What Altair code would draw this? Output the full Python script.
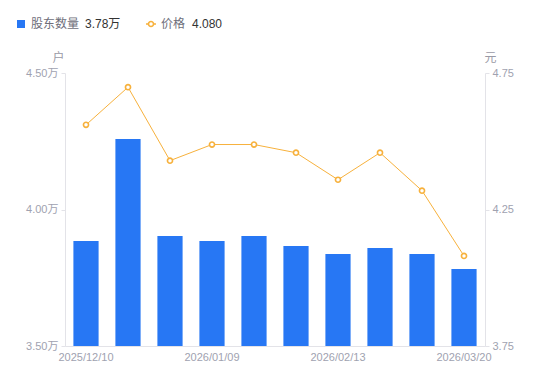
import altair as alt
import pandas as pd

dates = ["2025/12/10", "2025/12/19", "2025/12/31", "2026/01/09", "2026/01/20",
         "2026/01/30", "2026/02/13", "2026/02/27", "2026/03/10", "2026/03/20"]
holders_wan = [3.885, 4.258, 3.903, 3.885, 3.903, 3.866, 3.837, 3.859, 3.837, 3.782]
price = [4.560, 4.698, 4.429, 4.488, 4.488, 4.458, 4.359, 4.458, 4.319, 4.080]
x_label_dates = ["2025/12/10", "2026/01/09", "2026/02/13", "2026/03/20"]
left_ticks = [3.5, 4.0, 4.5]
right_ticks = [3.75, 4.25, 4.75]
bar_base = 3.5

FONT = "Liberation Sans, Noto Sans CJK SC, sans-serif"
BLUE = "#2777f4"
ORANGE = "#f7b13c"
AXIS_C = "#e3e3e8"
LABEL_C = "#a0a2b0"

df = pd.DataFrame({"date": dates, "holders": holders_wan, "price": price})

x_enc = alt.X("date:N", sort=dates,
              scale=alt.Scale(paddingInner=0.4, paddingOuter=0.2),
              axis=alt.Axis(values=x_label_dates, title=None, labelAngle=0, ticks=False,
                            domainColor=AXIS_C, labelColor=LABEL_C, labelFontSize=11,
                            labelFont=FONT, labelPadding=5))

bars = alt.Chart(df).mark_bar(color=BLUE).encode(
    x=x_enc,
    y=alt.Y("holders:Q",
            scale=alt.Scale(domain=[3.5, 4.5], zero=False, nice=False),
            axis=alt.Axis(values=left_ticks, labelExpr="format(datum.value, '.2f') + '万'",
                          title="户", titleAngle=0, titleX=-7, titleY=-9, titleAlign="center",
                          titleBaseline="bottom", titleColor="#9a9aa6", titleFontWeight="normal",
                          titleFontSize=12, titleFont=FONT, grid=False, tickSize=4,
                          tickColor=AXIS_C, domainColor=AXIS_C, labelColor=LABEL_C,
                          labelFontSize=11, labelFont=FONT, labelPadding=3)),
    y2=alt.datum(bar_base),
)

line = alt.Chart(df).mark_line(
    color=ORANGE, strokeWidth=1,
    point=alt.OverlayMarkDef(filled=True, fill="white", stroke=ORANGE, strokeWidth=1.6, size=26),
).encode(
    x=x_enc,
    y=alt.Y("price:Q",
            scale=alt.Scale(domain=[3.75, 4.75], zero=False, nice=False),
            axis=alt.Axis(orient="right", values=right_ticks, format=".2f",
                          title="元", titleAngle=0, titleX=5, titleY=-9, titleAlign="center",
                          titleBaseline="bottom", titleColor="#9a9aa6", titleFontWeight="normal",
                          titleFontSize=12, titleFont=FONT, grid=False, tickSize=4,
                          tickColor=AXIS_C, domainColor=AXIS_C, labelColor=LABEL_C,
                          labelFontSize=11, labelFont=FONT, labelPadding=3)),
)

leg = pd.DataFrame({
    "name1": ["股东数量"],
    "val1": [f"{holders_wan[-1]:.2f}万"],
    "name2": ["价格"],
    "val2": [f"{price[-1]:.3f}"],
})
LY = -49
leg_sq = alt.Chart(leg).mark_point(shape="square", filled=True, color=BLUE, size=64, opacity=1).encode(
    x=alt.value(-44), y=alt.value(LY))
leg_t1 = alt.Chart(leg).mark_text(align="left", baseline="middle", fontSize=12, font=FONT,
                                  color="#6e6e7a").encode(x=alt.value(-34), y=alt.value(LY), text="name1:N")
leg_v1 = alt.Chart(leg).mark_text(align="left", baseline="middle", fontSize=12, font=FONT,
                                  color="#333333").encode(x=alt.value(20), y=alt.value(LY), text="val1:N")
leg_rule = alt.Chart(leg).mark_rule(color=ORANGE, strokeWidth=1.5).encode(
    x=alt.value(81), x2=alt.value(91), y=alt.value(LY))
leg_pt = alt.Chart(leg).mark_point(filled=True, fill="white", stroke=ORANGE, strokeWidth=1.6,
                                   size=26, opacity=1).encode(x=alt.value(86), y=alt.value(LY))
leg_t2 = alt.Chart(leg).mark_text(align="left", baseline="middle", fontSize=12, font=FONT,
                                  color="#6e6e7a").encode(x=alt.value(96), y=alt.value(LY), text="name2:N")
leg_v2 = alt.Chart(leg).mark_text(align="left", baseline="middle", fontSize=12, font=FONT,
                                  color="#333333").encode(x=alt.value(127), y=alt.value(LY), text="val2:N")

chart = alt.layer(bars, line, leg_sq, leg_t1, leg_v1, leg_rule, leg_pt, leg_t2, leg_v2).resolve_scale(
    y="independent"
).properties(
    width=420, height=273,
    autosize=alt.AutoSizeParams(type="none"),
    padding={"left": 57, "top": 65, "right": 57, "bottom": 27},
).configure_view(stroke=None)

chart.save("out.html", embed_options={"renderer": "svg", "actions": False})
